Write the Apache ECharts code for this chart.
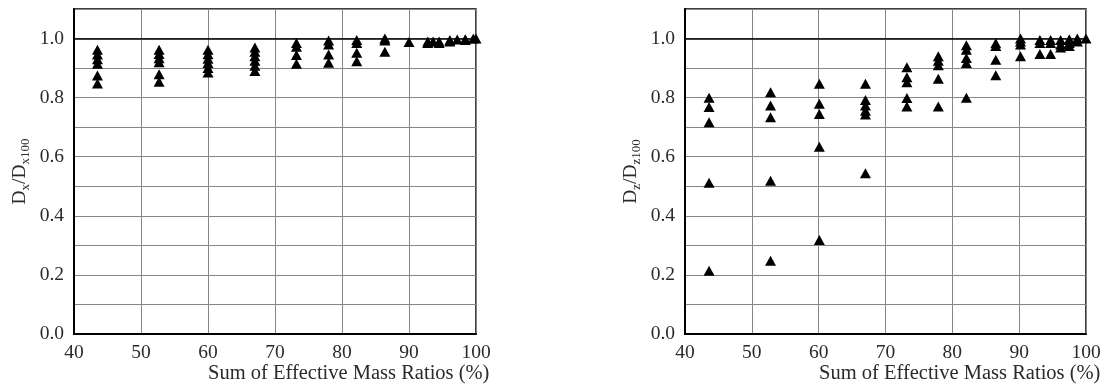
<!DOCTYPE html>
<html>
<head>
<meta charset="utf-8">
<script src="https://cdn.jsdelivr.net/npm/echarts@6/dist/echarts.min.js"></script>
<style>
  html, body { margin: 0; padding: 0; background: #fff; }
  #chart { width: 1107px; height: 389px; }
</style>
</head>
<body>
<div id="chart"></div>
<script>
// Mass-ratio groups (x) and displacement ratios measured at each group (y)
const massRatioX = [43.5, 52.7, 60.0, 67.0, 73.2, 78.0, 82.2, 86.4, 90.0, 92.8, 93.6, 94.5, 96.1, 97.2, 98.4, 99.6, 100];
const dxRatios = [
  [0.962, 0.946, 0.930, 0.915, 0.875, 0.848],
  [0.962, 0.948, 0.933, 0.920, 0.879, 0.854],
  [0.962, 0.947, 0.932, 0.917, 0.900, 0.885],
  [0.970, 0.955, 0.940, 0.925, 0.908, 0.890],
  [0.985, 0.972, 0.944, 0.915],
  [0.993, 0.980, 0.946, 0.918],
  [0.995, 0.985, 0.952, 0.923],
  [1.000, 0.993, 0.955],
  [0.988],
  [0.990, 0.985],
  [0.990],
  [0.990, 0.985],
  [0.995, 0.990],
  [0.997],
  [0.998, 0.995],
  [1.000],
  [1.000]
];

const massRatioZ = [43.6, 52.8, 60.1, 67.0, 73.2, 77.9, 82.1, 86.5, 90.2, 93.1, 94.7, 96.2, 97.5, 98.7, 100];
const dzRatios = [
  [0.800, 0.768, 0.717, 0.512, 0.214],
  [0.818, 0.773, 0.734, 0.519, 0.248],
  [0.847, 0.779, 0.745, 0.634, 0.318],
  [0.847, 0.792, 0.773, 0.756, 0.743, 0.544],
  [0.903, 0.869, 0.852, 0.799, 0.770],
  [0.940, 0.925, 0.910, 0.864, 0.770],
  [0.977, 0.962, 0.934, 0.917, 0.800],
  [0.984, 0.975, 0.928, 0.876],
  [1.000, 0.990, 0.980, 0.940],
  [0.995, 0.985, 0.948],
  [0.995, 0.985, 0.948],
  [0.995, 0.980, 0.970],
  [0.998, 0.985, 0.975],
  [1.000, 0.990],
  [1.000]
];

const xTicks = [40, 50, 60, 70, 80, 90, 100];
const yLabelValues = [0.0, 0.2, 0.4, 0.6, 0.8, 1.0];
const referenceRatio = 1.0;
const xTitle = 'Sum of Effective Mass Ratios (%)';

function toPoints(xs, groups) {
  const pts = [];
  xs.forEach((x, i) => groups[i].forEach(y => pts.push([x, y])));
  return pts;
}

const FONT = 'Liberation Serif';
const TEXT = '#2a2a2a';
const GRIDC = '#858585';

function xAxis(gridIndex) {
  return {
    type: 'value', gridIndex,
    min: xTicks[0], max: xTicks[xTicks.length - 1], interval: 10,
    axisLine: { show: true, onZero: false, lineStyle: { color: '#000', width: 2 } },
    axisTick: { show: false },
    axisLabel: { margin: 9, color: TEXT, fontFamily: FONT, fontSize: 19.5 },
    splitLine: { show: true, lineStyle: { color: GRIDC, width: 1 } }
  };
}

function yAxis(gridIndex, sym) {
  return {
    type: 'value', gridIndex,
    min: 0, max: 1.1, interval: 0.1,
    name: `{m|D}{s|${sym}}{m|/D}{s|${sym}100}`,
    nameLocation: 'middle', nameRotate: 90, nameGap: 42,
    nameTextStyle: {
      color: TEXT, fontFamily: FONT,
      rich: {
        m: { fontFamily: FONT, fontSize: 19.5, color: TEXT, lineHeight: 24, verticalAlign: 'middle' },
        s: { fontFamily: FONT, fontSize: 13, color: TEXT, lineHeight: 13, verticalAlign: 'bottom' }
      }
    },
    axisLine: { show: true, onZero: false, lineStyle: { color: '#000', width: 2 } },
    axisTick: { show: false },
    axisLabel: {
      margin: 10, color: TEXT, fontFamily: FONT, fontSize: 19.5,
      formatter: v => {
        const hit = yLabelValues.find(t => Math.abs(t - v) < 1e-6);
        return hit === undefined ? '' : hit.toFixed(1);
      }
    },
    splitLine: { show: true, lineStyle: { color: GRIDC, width: 1 } }
  };
}

function scatter(idx, data) {
  return {
    type: 'scatter', xAxisIndex: idx, yAxisIndex: idx,
    data, symbol: 'triangle', symbolSize: [11, 10],
    itemStyle: { color: '#000', opacity: 1 },
    silent: true, z: 5,
    markLine: {
      silent: true, symbol: 'none', label: { show: false },
      lineStyle: { color: '#000', width: 1.5, type: 'solid' },
      data: [{ yAxis: referenceRatio }]
    }
  };
}

const chart = echarts.init(document.getElementById('chart'), null, { renderer: 'canvas' });
chart.setOption({
  animation: false,
  backgroundColor: '#fff',
  grid: [
    { left: 74, right: 631, top: 9, bottom: 55, show: true, borderColor: '#000', borderWidth: 1.5, backgroundColor: 'transparent' },
    { left: 685, right: 21, top: 9, bottom: 55, show: true, borderColor: '#000', borderWidth: 1.5, backgroundColor: 'transparent' }
  ],
  xAxis: [xAxis(0), xAxis(1)],
  yAxis: [yAxis(0, 'x'), yAxis(1, 'z')],
  series: [scatter(0, toPoints(massRatioX, dxRatios)), scatter(1, toPoints(massRatioZ, dzRatios))],
  graphic: [
    { type: 'text', left: 208, top: 363, style: { text: xTitle, fill: TEXT, font: `20.5px "${FONT}"` } },
    { type: 'text', left: 819, top: 363, style: { text: xTitle, fill: TEXT, font: `20.5px "${FONT}"` } }
  ]
});
</script>
</body>
</html>
